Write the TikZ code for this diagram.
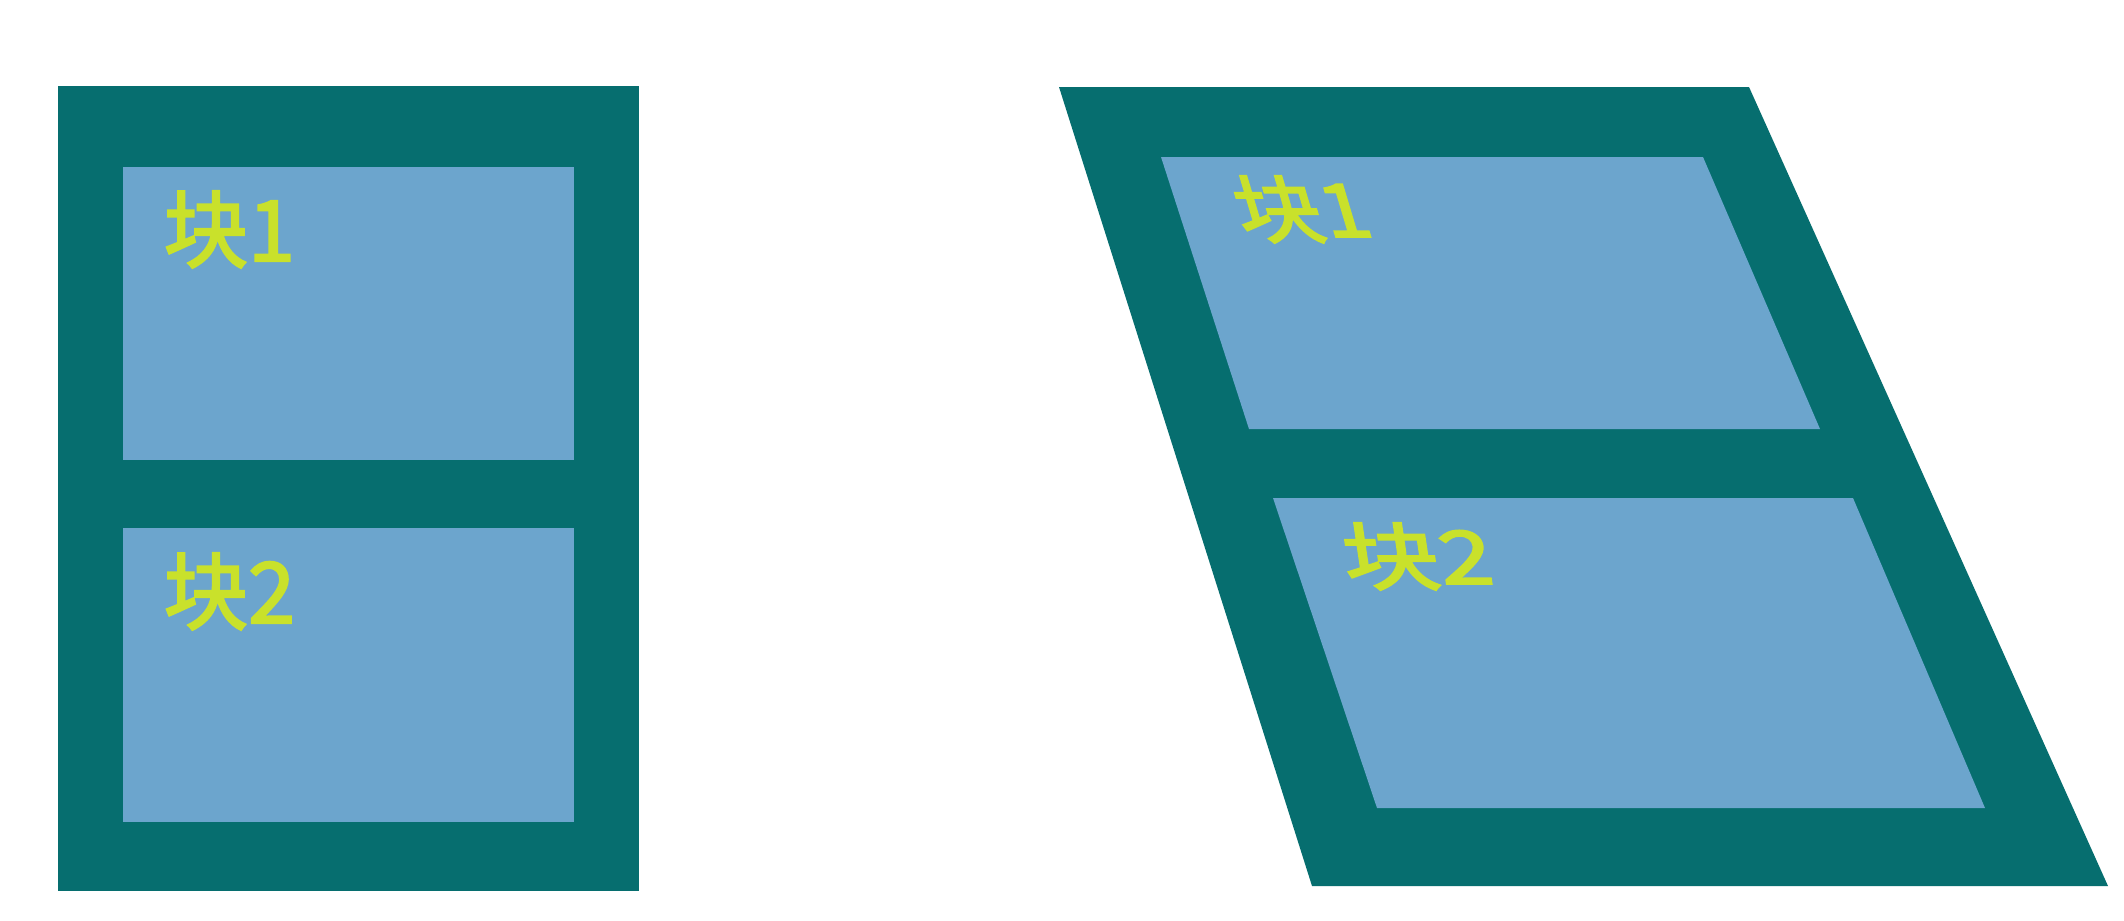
\documentclass[tikz,border=0pt]{standalone}
\usepackage{fontspec}
\newfontfamily\cjk{Noto Sans CJK SC}[FakeBold=2.5]
\definecolor{frameteal}{HTML}{066E6F}
\definecolor{blockblue}{HTML}{6CA5CD}
\definecolor{labelyellow}{HTML}{C9E12B}
\begin{document}
\begin{tikzpicture}[x=0.01cm,y=-0.01cm,
  frame/.style={fill=frameteal,draw=none},
  block/.style={fill=blockblue,draw=none},
  lbl/.style={text=labelyellow,font=\cjk\fontsize{24}{24}\selectfont,inner sep=0pt,anchor=base west}]
\useasboundingbox[fill=white] (0,0) rectangle (2124,920);
% left
\fill[frame] (58,86) rectangle (639,891);
\fill[block] (123,167) rectangle (574,460);
\fill[block] (123,528) rectangle (574,822);
\node[lbl] (l1) at (163,261) {块1};
\node[lbl] (l2) at (163,623) {块2};
% right
\fill[frame] (1059,87) -- (1749,87) -- (2108,886) -- (1312,886) -- cycle;
\fill[block] (1161,157) -- (1703,157) -- (1820,429) -- (1249,429) -- cycle;
\fill[block] (1273,498) -- (1853,498) -- (1985,808) -- (1377,808) -- cycle;
\node[lbl,xslant=-0.3,xscale=1.15,font=\cjk\fontsize{21}{21}\selectfont] (r1) at (1243,237) {块1};
\node[lbl,xslant=-0.15,xscale=1.3,font=\cjk\fontsize{21}{21}\selectfont] (r2) at (1346,584) {块2};
\end{tikzpicture}
\end{document}
